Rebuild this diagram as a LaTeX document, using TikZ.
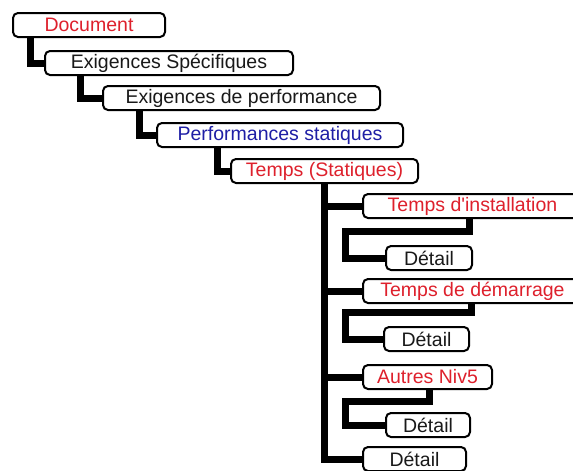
\documentclass[tikz,border=0pt]{standalone}
\usepackage{fontspec}
\setmainfont{Liberation Sans}
\usetikzlibrary{backgrounds}
\definecolor{lblred}{RGB}{222,32,44}
\definecolor{lblblue}{RGB}{30,30,165}
\definecolor{lblblack}{RGB}{25,25,25}
\tikzset{
  box/.style={draw=black, line width=2pt, rounded corners=5pt, fill=white,
    inner sep=0pt, minimum height=24pt, text=lblblack,
    font=\fontsize{19.5}{22}\selectfont},
  redbox/.style={box, text=lblred},
  bluebox/.style={box, text=lblblue},
  conn/.style={draw=black, line width=7pt, line join=miter}
}
\begin{document}
\begin{tikzpicture}[x=1pt, y=-1pt]
  \useasboundingbox (0,0) rectangle (573,471);
  \clip (0,0) rectangle (573,471);

  % hierarchy boxes
  \node[redbox,  minimum width=152pt] (doc)  at (89,25)    {Document};
  \node[box,     minimum width=248pt] (exs)  at (169,63)   {Exigences Spécifiques};
  \node[box,     minimum width=277pt] (exp)  at (241.5,98) {Exigences de performance};
  \node[bluebox, minimum width=246pt] (ps)   at (280,135)  {Performances statiques};
  \node[redbox,  minimum width=187pt] (ts)   at (324.5,171){Temps (Statiques)};
  \node[redbox,  minimum width=219pt] (ti)   at (472.5,206){Temps d\textquotesingle installation};
  \node[box,     minimum width=86pt]  (da)   at (429,258)  {Détail};
  \node[redbox,  minimum width=219pt] (tdm)  at (472.5,291){Temps de démarrage};
  \node[box,     minimum width=85pt]  (db)   at (426.5,339){Détail};
  \node[redbox,  minimum width=129pt] (an)   at (427.5,377){Autres Niv5};
  \node[box,     minimum width=84pt]  (dc)   at (428,425)  {Détail};
  \node[box,     minimum width=103pt] (dd)   at (414.5,459){Détail};

  % thick elbow connectors behind the boxes
  \begin{scope}[on background layer]
    \draw[conn] ([xshift=18pt]doc.south west)   |- (exs.west);
    \draw[conn] ([xshift=36.5pt]exs.south west) |- (exp.west);
    \draw[conn] ([xshift=37pt]exp.south west)   |- (ps.west);
    \draw[conn] ([xshift=61.5pt]ps.south west)  |- (ts.west);
    % trunk of the level-5 items
    \draw[conn] ([xshift=94pt]ts.south west) |- (dd.west);
    \draw[conn] ([xshift=94pt]ts.south west) |- (ti.west);
    \draw[conn] ([xshift=94pt]ts.south west) |- (tdm.west);
    \draw[conn] ([xshift=94pt]ts.south west) |- (an.west);
    % detail brackets
    \draw[conn] ([xshift=107pt]ti.south west) -- ++(0,12)
      -| ([xshift=-40pt]da.west) -- (da.west);
    \draw[conn] ([xshift=109pt]tdm.south west) -- ++(0,8)
      -| ([xshift=-38pt]db.west) -- (db.west);
    \draw[conn] ([xshift=67pt]an.south west) -- ++(0,11)
      -| ([xshift=-40pt]dc.west) -- (dc.west);
  \end{scope}
\end{tikzpicture}
\end{document}
